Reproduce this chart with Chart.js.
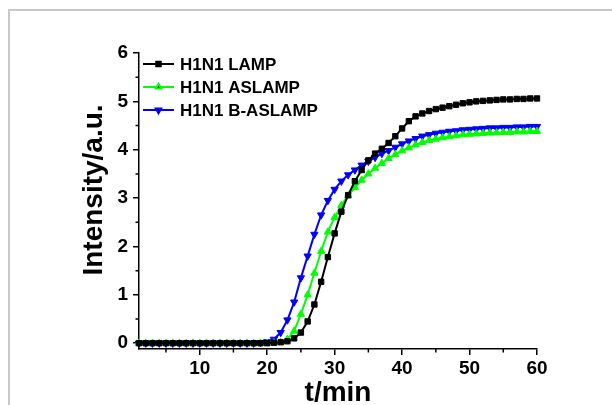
<!DOCTYPE html>
<html>
<head>
<meta charset="utf-8">
<script src="https://cdn.jsdelivr.net/npm/chart.js@4"></script>
<style>
  body { margin: 0; background: #fff; }
  #wrap { position: relative; width: 612px; height: 405px; overflow: hidden; }
  #frame { position: absolute; left: 8px; top: 9px; width: 700px; height: 500px;
           border-left: 2px solid #c8c8c8; border-top: 2px solid #c8c8c8; }
  canvas { position: absolute; left: 0; top: 0; }
</style>
</head>
<body>
<div id="wrap">
  <div id="frame"></div>
  <canvas id="lampChart" width="612" height="405"></canvas>
</div>
<script>
// time points (min)
const times = [1, 2, 3, 4, 5, 6, 7, 8, 9, 10, 11, 12, 13, 14, 15, 16, 17, 18, 19, 20,
  21, 22, 23, 24, 25, 26, 27, 28, 29, 30, 31, 32, 33, 34, 35, 36, 37, 38, 39, 40,
  41, 42, 43, 44, 45, 46, 47, 48, 49, 50, 51, 52, 53, 54, 55, 56, 57, 58, 59, 60];

const lamp = [0, 0, 0, 0, 0, 0, 0, 0, 0, 0, 0, 0, 0, 0, 0, 0, 0, 0, 0, 0,
  0.01, 0.02, 0.04, 0.1, 0.22, 0.45, 0.8, 1.27, 1.78, 2.27, 2.72, 3.06, 3.35, 3.58, 3.78, 3.92, 4.02, 4.14, 4.28, 4.44,
  4.59, 4.69, 4.75, 4.8, 4.84, 4.87, 4.9, 4.93, 4.96, 4.98, 5.0, 5.01, 5.02, 5.03, 5.04, 5.04, 5.05, 5.05, 5.06, 5.06];

const aslamp = [0, 0, 0, 0, 0, 0, 0, 0, 0, 0, 0, 0, 0, 0, 0, 0, 0, 0, 0, 0,
  0.01, 0.02, 0.08, 0.25, 0.6, 1.0, 1.45, 1.9, 2.3, 2.6, 2.85, 3.05, 3.22, 3.37, 3.5, 3.62, 3.72, 3.82, 3.9, 3.98,
  4.04, 4.1, 4.15, 4.19, 4.22, 4.25, 4.27, 4.29, 4.31, 4.32, 4.33, 4.34, 4.35, 4.35, 4.36, 4.36, 4.37, 4.37, 4.38, 4.38];

const bAslamp = [0, 0, 0, 0, 0, 0, 0, 0, 0, 0, 0, 0, 0, 0, 0, 0, 0, 0, 0.01, 0.03,
  0.08, 0.22, 0.48, 0.85, 1.35, 1.8, 2.25, 2.65, 2.95, 3.18, 3.35, 3.48, 3.58, 3.68, 3.76, 3.84, 3.92, 3.98, 4.05, 4.12,
  4.18, 4.23, 4.28, 4.31, 4.34, 4.36, 4.38, 4.39, 4.41, 4.42, 4.43, 4.44, 4.45, 4.45, 4.46, 4.46, 4.47, 4.47, 4.48, 4.48];

const seriesNames = ['H1N1 LAMP', 'H1N1 ASLAMP', 'H1N1 B-ASLAMP'];
const seriesColors = ['#000000', '#00ff00', '#0000ff'];
const xTicks = [10, 20, 30, 40, 50, 60];
const yTicks = [0, 1, 2, 3, 4, 5, 6];

const FONT = '"Liberation Sans", Arial, sans-serif';

function toPoints(arr) {
  return times.map((t, i) => ({ x: t, y: arr[i] }));
}

// minor ticks, axis titles and the legend (line + marker + text)
const extras = {
  id: 'extras',
  afterDraw(chart) {
    const c = chart.ctx;
    const xs = chart.scales.x, ys = chart.scales.y;
    const area = chart.chartArea;
    c.save();
    c.strokeStyle = '#000';
    c.lineWidth = 1.5;
    c.beginPath();
    for (let v = 5; v < 60; v += 10) {
      const px = xs.getPixelForValue(v);
      c.moveTo(px, area.bottom);
      c.lineTo(px, area.bottom + 3.5);
    }
    for (let v = 0.5; v < 6; v += 1) {
      const py = ys.getPixelForValue(v);
      c.moveTo(area.left, py);
      c.lineTo(area.left - 3.5, py);
    }
    c.stroke();

    // axis titles
    c.fillStyle = '#000';
    c.font = 'bold 28px ' + FONT;
    c.textAlign = 'center';
    c.textBaseline = 'alphabetic';
    c.fillText('t/min', (area.left + area.right) / 2, 401);
    c.translate(102, 190);
    c.rotate(-Math.PI / 2);
    c.fillText('Intensity/a.u.', 0, 0);
    c.restore();

    // legend
    c.save();
    chart.data.datasets.forEach((ds, i) => {
      const y = 64 + i * 23;
      c.strokeStyle = ds.borderColor;
      c.lineWidth = 2;
      c.beginPath();
      c.moveTo(143, y);
      c.lineTo(174, y);
      c.stroke();
      Chart.helpers.drawPoint(c, {
        pointStyle: ds.pointStyle, rotation: ds.rotation || 0, radius: 3.2, borderWidth: 1
      }, 158.5, y);
      c.fillStyle = '#000';
      c.font = 'bold 17px ' + FONT;
      c.textAlign = 'left';
      c.textBaseline = 'middle';
      c.fillText(ds.label, 180, y + 1);
    });
    c.restore();
  }
};

const pointStyles = ['rect', 'triangle', 'triangle'];
const rotations = [0, 0, 180];
const radii = [3.8, 4.2, 4.2];

new Chart(document.getElementById('lampChart').getContext('2d'), {
  type: 'line',
  data: {
    datasets: [lamp, aslamp, bAslamp].map((arr, i) => ({
      label: seriesNames[i],
      data: toPoints(arr),
      borderColor: seriesColors[i],
      backgroundColor: seriesColors[i],
      borderWidth: 2,
      pointStyle: pointStyles[i],
      rotation: rotations[i],
      pointRadius: radii[i],
      pointBorderWidth: 1,
      tension: 0,
      clip: false
    }))
  },
  options: {
    responsive: false,
    animation: false,
    layout: { padding: { top: 53, right: 75, left: 0, bottom: 0 } },
    plugins: { legend: { display: false }, tooltip: { enabled: false } },
    scales: {
      x: {
        type: 'linear',
        min: 1,
        max: 60,
        afterBuildTicks: s => { s.ticks = xTicks.map(v => ({ value: v })); },
        afterFit: s => { s.height = 56; },
        border: { display: true, color: '#000', width: 1.5 },
        grid: { display: true, drawOnChartArea: false, drawTicks: true, tickLength: 6, color: '#000', lineWidth: 1.5 },
        ticks: { color: '#000', padding: 2, maxRotation: 0, font: { family: FONT, size: 19, weight: 'bold' } }
      },
      y: {
        min: -0.12,
        max: 6,
        afterBuildTicks: s => { s.ticks = yTicks.map(v => ({ value: v })); },
        afterFit: s => { s.width = 139; },
        border: { display: true, color: '#000', width: 1.5 },
        grid: { display: true, drawOnChartArea: false, drawTicks: true, tickLength: 6, color: '#000', lineWidth: 1.5 },
        ticks: { color: '#000', padding: 5, font: { family: FONT, size: 19, weight: 'bold' } }
      }
    }
  },
  plugins: [extras]
});
</script>
</body>
</html>
